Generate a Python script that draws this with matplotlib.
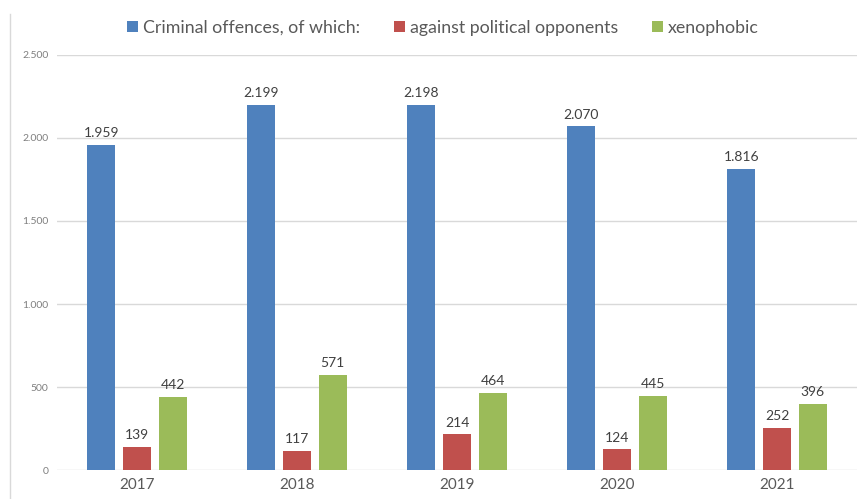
import matplotlib.pyplot as plt
from matplotlib.lines import Line2D
import numpy as np

years = ["2017", "2018", "2019", "2020", "2021"]
offences = [1959, 2199, 2198, 2070, 1816]
political = [139, 117, 214, 124, 252]
xenophobic = [442, 571, 464, 445, 396]

series = [
    ("Criminal offences, of which:", offences, "#4F81BD"),
    ("against political opponents", political, "#C0504D"),
    ("xenophobic", xenophobic, "#9BBB59"),
]


def fmt(v):
    return f"{v:,}".replace(",", ".")


plt.rcParams["font.family"] = ["Lato", "DejaVu Sans"]

fig = plt.figure(figsize=(8.57, 4.99), dpi=100)
ax = fig.add_axes([0.0665, 0.0581, 0.9335, 0.8317])

x = np.arange(len(years))
width = 0.175
step = 0.222

for i, (name, vals, color) in enumerate(series):
    pos = x + (i - 1) * step
    bars = ax.bar(pos, vals, width, color=color, label=name, zorder=3)
    for b, v in zip(bars, vals):
        ax.text(b.get_x() + b.get_width() / 2, v + 35, fmt(v),
                ha="center", va="bottom", fontsize=10, color="#404040")

ax.set_xlim(-0.5, len(years) - 0.5)
ax.set_ylim(0, 2500)
ax.set_yticks(range(0, 2501, 500))
ax.set_yticklabels([fmt(v) for v in range(0, 2501, 500)], fontsize=7.5, color="#7f7f7f")
ax.set_xticks(x)
ax.set_xticklabels(years, fontsize=11, color="#595959")
ax.tick_params(length=0, pad=6)
ax.yaxis.grid(True, color="#d9d9d9", linewidth=1, zorder=0)
for s in ax.spines.values():
    s.set_visible(False)

fig.legend(loc="center", bbox_to_anchor=(0.517, 0.944), ncol=3, frameon=False,
           fontsize=12.8, handlelength=0.6, handleheight=0.6, handletextpad=0.3,
           columnspacing=1.9, labelcolor="#595959")

fig.add_artist(Line2D([0.012, 0.012], [0.0, 0.972], color="#d9d9d9",
                      linewidth=1, transform=fig.transFigure))

fig.savefig("out.png", dpi=100)
